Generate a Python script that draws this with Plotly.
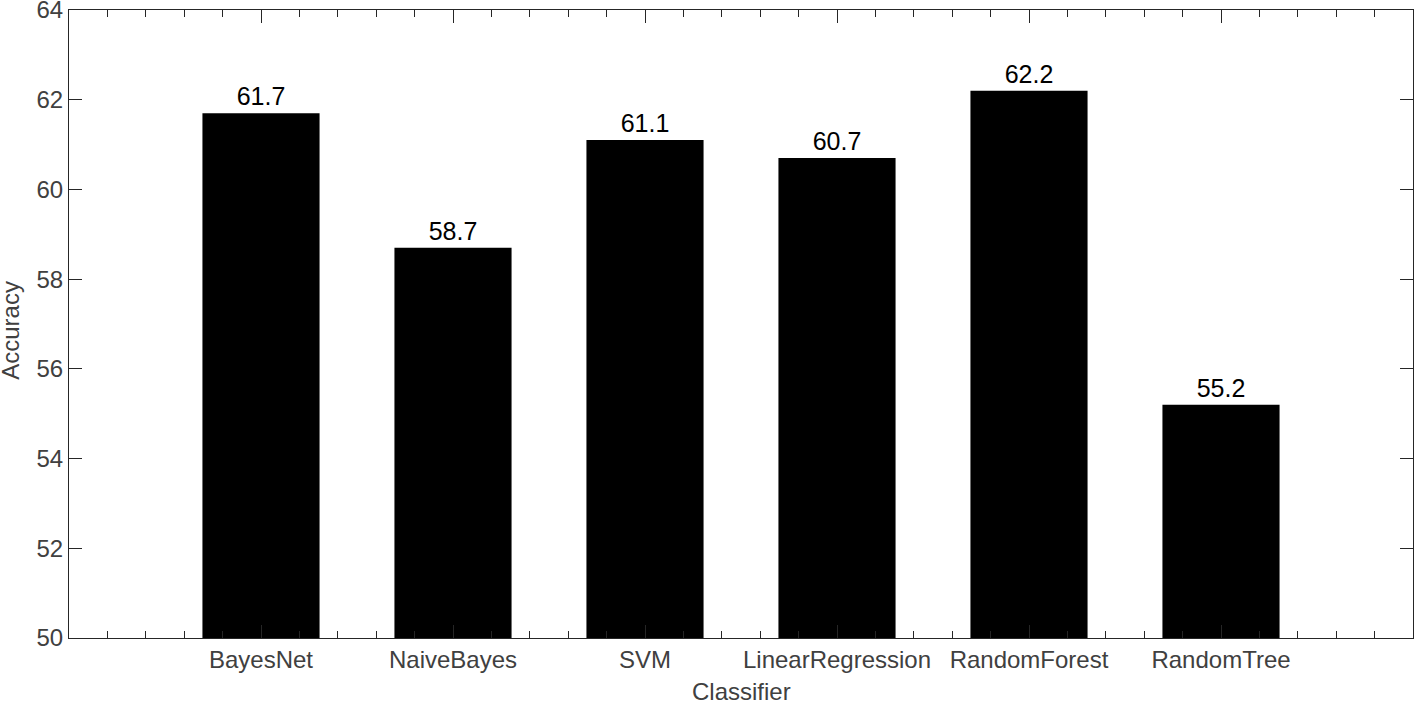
import plotly.graph_objects as go

classifiers = ["BayesNet", "NaiveBayes", "SVM", "LinearRegression", "RandomForest", "RandomTree"]
accuracy = [61.7, 58.7, 61.1, 60.7, 62.2, 55.2]
positions = [1, 2, 3, 4, 5, 6]
y_ticks = [50, 52, 54, 56, 58, 60, 62, 64]

FONT = "Liberation Sans, Arial, sans-serif"
AXIS = "#262626"
TICK_TEXT = "#404040"

fig = go.Figure()

fig.add_trace(go.Bar(
    x=positions,
    y=[a - 50 for a in accuracy],
    base=50,
    width=0.61,
    marker=dict(color="black", line=dict(width=0)),
    text=[f"{a:.1f}" for a in accuracy],
    textposition="outside",
    textfont=dict(family=FONT, size=25, color="black"),
    cliponaxis=False,
    showlegend=False,
))

# axis titles as annotations so they sit where the reference has them
fig.add_annotation(
    text="Classifier", xref="paper", yref="paper",
    x=0.5, y=-0.085, xanchor="center", yanchor="middle",
    showarrow=False, font=dict(size=24, color=TICK_TEXT),
)
fig.add_annotation(
    text="Accuracy", xref="paper", yref="paper",
    x=-0.0435, y=0.49, xanchor="center", yanchor="middle", textangle=-90,
    showarrow=False, font=dict(size=24, color=TICK_TEXT),
)

fig.update_layout(
    width=1415,
    height=702,
    paper_bgcolor="white",
    plot_bgcolor="white",
    margin=dict(l=69, r=2, t=10, b=64),
    font=dict(family=FONT, size=24, color=TICK_TEXT),
    xaxis=dict(
        range=[0, 7],
        tickvals=positions,
        ticktext=classifiers,
        ticks="inside",
        ticklen=13,
        tickwidth=1,
        tickcolor=AXIS,
        minor=dict(dtick=0.2, tick0=0, ticks="inside", ticklen=7, tickcolor=AXIS, tickwidth=1),
        showline=True,
        linecolor=AXIS,
        linewidth=1,
        mirror="allticks",
        showgrid=False,
        zeroline=False,
        automargin=False,
        tickfont=dict(size=24, color=TICK_TEXT),
    ),
    yaxis=dict(
        range=[50, 64],
        tickvals=y_ticks,
        ticks="inside",
        ticklen=13,
        tickwidth=1,
        tickcolor=AXIS,
        showline=True,
        linecolor=AXIS,
        linewidth=1,
        mirror="allticks",
        showgrid=False,
        zeroline=False,
        automargin=False,
        ticklabeloverflow="allow",
        tickfont=dict(size=24, color=TICK_TEXT),
    ),
)

fig.write_html(
    "out.html",
    config={"displayModeBar": False},
    post_script="document.body.style.margin='0';",
)
